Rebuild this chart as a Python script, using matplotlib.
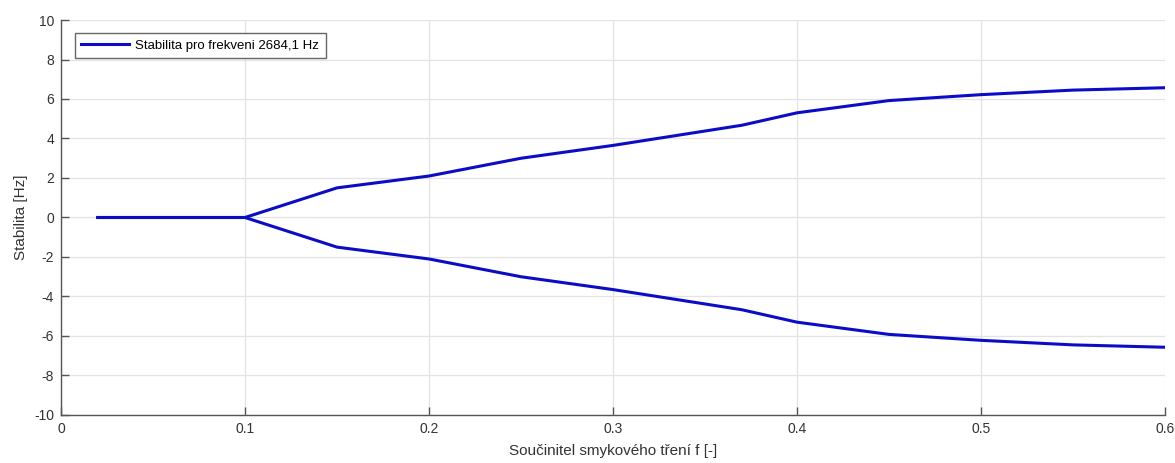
import matplotlib
matplotlib.use("Agg")
import matplotlib.pyplot as plt

plt.rcParams['font.family'] = ['Liberation Sans', 'DejaVu Sans']
plt.rcParams['axes.unicode_minus'] = False

# friction coefficient vs. stability (upper / lower branch)
friction = [0.02, 0.05, 0.10, 0.15, 0.20, 0.25, 0.30, 0.37, 0.40, 0.45, 0.50, 0.55, 0.60]
stab_upper = [0.0, 0.0, 0.0, 1.5, 2.1, 3.0, 3.65, 4.67, 5.3, 5.92, 6.22, 6.45, 6.57]
stab_lower = [0.0, 0.0, 0.0, -1.5, -2.1, -3.0, -3.65, -4.67, -5.3, -5.92, -6.22, -6.45, -6.57]

x_ticks = [0, 0.1, 0.2, 0.3, 0.4, 0.5, 0.6]
x_labels = ['0', '0.1', '0.2', '0.3', '0.4', '0.5', '0.6']
y_ticks = list(range(-10, 11, 2))

line_color = '#0c0cc8'
axis_color = '#555555'

fig = plt.figure(figsize=(11.75, 4.63), dpi=100)
ax = fig.add_axes([0.0519, 0.1037, 0.9396, 0.8531])

ax.plot(friction, stab_upper, color=line_color, linewidth=2.2,
        label='Stabilita pro frekveni 2684,1 Hz')
ax.plot(friction, stab_lower, color=line_color, linewidth=2.2)

ax.set_xlim(0, 0.6)
ax.set_ylim(-10, 10)
ax.set_xticks(x_ticks)
ax.set_xticklabels(x_labels)
ax.set_yticks(y_ticks)

ax.grid(True, color='#e3e3e3', linewidth=0.9)
ax.set_axisbelow(True)

# matlab-like look: box off, ticks pointing in
for side in ['top', 'right']:
    ax.spines[side].set_visible(False)
for side in ['left', 'bottom']:
    ax.spines[side].set_color(axis_color)
    ax.spines[side].set_linewidth(1.0)
ax.tick_params(direction='in', length=6, width=1.0, colors=axis_color,
               labelcolor='#333333', labelsize=10, pad=5)

ax.set_xlabel('Součinitel smykového tření f [-]', fontsize=11, color='#333333', labelpad=6)
ax.set_ylabel('Stabilita [Hz]', fontsize=11, color='#333333', labelpad=4)

leg = ax.legend(loc='upper left', bbox_to_anchor=(0.0125, 0.967), fontsize=9.5,
                fancybox=False, framealpha=1, edgecolor='#666666',
                handlelength=3.6, borderpad=0.5, handletextpad=0.5, borderaxespad=0)
leg.get_frame().set_linewidth(1.0)

plt.savefig('out.png', dpi=100)
